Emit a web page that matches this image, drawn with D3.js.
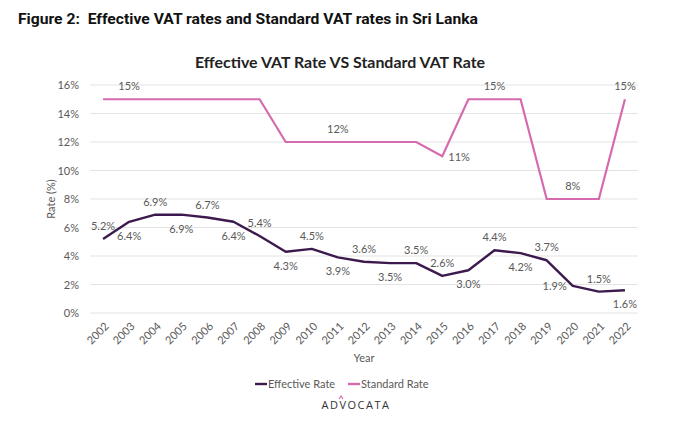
<!DOCTYPE html>
<html>
<head>
<meta charset="utf-8">
<script src="https://cdn.jsdelivr.net/npm/d3@7"></script>
<style>
  html, body { margin: 0; padding: 0; background: #fff; }
  svg { display: block; }
</style>
</head>
<body>
<svg id="chart" width="700" height="438"></svg>
<script>
// ---- data ----
const years = ["2002","2003","2004","2005","2006","2007","2008","2009","2010","2011","2012","2013","2014","2015","2016","2017","2018","2019","2020","2021","2022"];
const effectiveRate = [5.2,6.4,6.9,6.9,6.7,6.4,5.4,4.3,4.5,3.9,3.6,3.5,3.5,2.6,3.0,4.4,4.2,3.7,1.9,1.5,1.6];
const standardRate = [15,15,15,15,15,15,15,12,12,12,12,12,12,11,15,15,15,8,8,8,15];
const yTicks = [0,2,4,6,8,10,12,14,16];
const seriesNames = ["Effective Rate","Standard Rate"];
// which standard-rate points carry a label
const standardLabelled = ["2003","2011","2015","2017","2020","2022"];

// ---- label placement (style, not data) ----
const effPlace = ["above","below","above","below","above","below","above","below","above","below","above","below","above","above","below","above","below","above","left","above","below"];
const stdPlace = {"2003":"above","2011":"above","2015":"right","2017":"above","2020":"above","2022":"above"};

const colEff = "#3d1a4d";
const colStd = "#d56aae";
const textCol = "#595959";
const font = "Lato, 'Open Sans', sans-serif";
const fs = 11;

const svg = d3.select("#chart");

// Figure title
svg.append("text")
  .attr("x", 18).attr("y", 24)
  .attr("font-family", "Roboto, sans-serif")
  .attr("font-weight", 700)
  .attr("font-size", 15.5)
  .attr("fill", "#111")
  .style("white-space", "pre")
  .attr("textLength", 460)
  .attr("lengthAdjust", "spacingAndGlyphs")
  .text("Figure 2:  Effective VAT rates and Standard VAT rates in Sri Lanka");

// Chart title
svg.append("text")
  .attr("x", 340).attr("y", 68)
  .attr("text-anchor", "middle")
  .attr("font-family", font)
  .attr("font-weight", 700)
  .attr("font-size", 15.5)
  .attr("fill", "#222")
  .attr("textLength", 290)
  .attr("lengthAdjust", "spacingAndGlyphs")
  .text("Effective VAT Rate VS Standard VAT Rate");

const x = d3.scalePoint().domain(years).range([90, 638]).padding(0.5);
const y = d3.scaleLinear().domain([0, 16]).range([313, 85]);

// gridlines
svg.append("g").selectAll("line").data(yTicks).join("line")
  .attr("x1", 90).attr("x2", 638)
  .attr("y1", d => y(d)).attr("y2", d => y(d))
  .attr("stroke", "#e3e3e3").attr("stroke-width", 1);

// y axis
const yAxis = svg.append("g")
  .attr("transform", "translate(82,0)")
  .call(d3.axisLeft(y).tickValues(yTicks).tickFormat(d => d + "%").tickSize(0).tickPadding(3));
yAxis.select(".domain").remove();
yAxis.selectAll("text").attr("font-family", font).attr("font-size", fs).attr("fill", textCol);

// x axis
const xAxis = svg.append("g")
  .attr("transform", "translate(0,313)")
  .call(d3.axisBottom(x).tickSize(0).tickPadding(0));
xAxis.select(".domain").remove();
xAxis.selectAll("text")
  .attr("font-family", font).attr("font-size", fs).attr("fill", textCol)
  .attr("text-anchor", "end")
  .attr("dy", null).attr("y", 0)
  .attr("transform", "translate(6,14) rotate(-45)");

// axis titles
svg.append("text")
  .attr("x", 364).attr("y", 362)
  .attr("text-anchor", "middle")
  .attr("font-family", font).attr("font-size", fs).attr("fill", textCol)
  .text("Year");
svg.append("text")
  .attr("transform", "translate(55,199) rotate(-90)")
  .attr("text-anchor", "middle")
  .attr("font-family", font).attr("font-size", fs).attr("fill", textCol)
  .text("Rate (%)");

// lines
const line = d3.line().x((d, i) => x(years[i])).y(d => y(d));
svg.append("path").datum(standardRate)
  .attr("d", line).attr("fill", "none")
  .attr("stroke", colStd).attr("stroke-width", 2.2).attr("stroke-linejoin", "miter");
svg.append("path").datum(effectiveRate)
  .attr("d", line).attr("fill", "none")
  .attr("stroke", colEff).attr("stroke-width", 2.4).attr("stroke-linejoin", "round");

// labels
function placeLabel(sel, px, py, place) {
  if (place === "above") sel.attr("x", px).attr("y", py - 9).attr("text-anchor", "middle");
  else if (place === "below") sel.attr("x", px).attr("y", py + 18).attr("text-anchor", "middle");
  else if (place === "left") sel.attr("x", px - 6).attr("y", py + 4).attr("text-anchor", "end");
  else if (place === "right") sel.attr("x", px + 6).attr("y", py + 5).attr("text-anchor", "start");
}
svg.append("g").selectAll("text").data(effectiveRate).join("text")
  .attr("font-family", font).attr("font-size", fs).attr("fill", textCol)
  .each(function(d, i) { placeLabel(d3.select(this), x(years[i]), y(d), effPlace[i]); })
  .text(d => d.toFixed(1) + "%");

svg.append("g").selectAll("text").data(standardLabelled).join("text")
  .attr("font-family", font).attr("font-size", fs).attr("fill", textCol)
  .each(function(yr) {
    const v = standardRate[years.indexOf(yr)];
    placeLabel(d3.select(this), x(yr), y(v), stdPlace[yr]);
  })
  .text(yr => standardRate[years.indexOf(yr)] + "%");

// legend
const legend = svg.append("g").attr("transform", "translate(0,384)");
const legX = [255, 348];
[colEff, colStd].forEach((c, i) => {
  legend.append("line").attr("x1", legX[i]).attr("x2", legX[i] + 12)
    .attr("y1", 0).attr("y2", 0).attr("stroke", c).attr("stroke-width", 2.4);
  legend.append("text").attr("x", legX[i] + 13).attr("y", 4)
    .attr("font-family", font).attr("font-size", fs).attr("fill", textCol)
    .text(seriesNames[i]);
});

// logo
const logo = svg.append("g").attr("transform", "translate(356,409)");
logo.append("text")
  .attr("x", 0).attr("y", 0).attr("text-anchor", "middle")
  .attr("font-family", "'Open Sans', sans-serif").attr("font-size", 11)
  .attr("letter-spacing", 1.5).attr("fill", "#333")
  .text("ADVOCATA");
logo.append("path")
  .attr("d", "M-17,-10 L-15,-13 L-13,-10")
  .attr("fill", "none").attr("stroke", colStd).attr("stroke-width", 1.2);
</script>
</body>
</html>
